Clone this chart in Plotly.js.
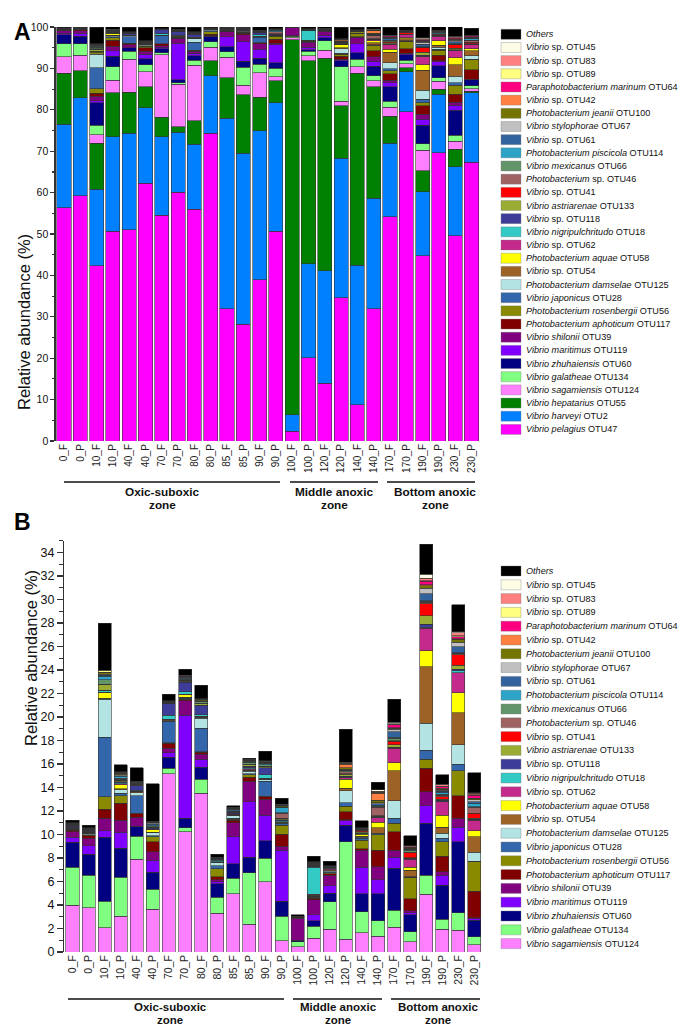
<!DOCTYPE html>
<html><head><meta charset="utf-8">
<script src="https://cdn.plot.ly/plotly-3.0.1.min.js"></script>
<style>html,body{margin:0;padding:0;background:#fff}#chart{width:685px;height:1026px}</style>
</head><body><div id="chart"></div>
<script>
const samples = ["0_F","0_P","10_F","10_P","40_F","40_P","70_F","70_P","80_F","80_P","85_F","85_P","90_F","90_P","100_F","100_P","120_F","120_P","140_F","140_P","170_F","170_P","190_F","190_P","230_F","230_P"];

// Dominant OTUs (panel A only)
const pelagius   = [56.4,59.2,42.3,50.7,51.0,62.2,54.5,60.1,56.0,74.3,32.0,28.2,39.0,50.7,2.4,20.1,13.9,34.6,8.7,31.9,54.2,79.5,44.8,69.6,49.6,67.3];
const harveyi    = [20.1,23.7,18.5,22.8,23.3,18.3,19.0,14.5,15.7,13.9,45.9,41.3,36.0,31.0,4.0,22.7,27.2,33.7,33.7,26.7,17.7,9.7,15.4,14.2,16.7,16.8];
const hepatarius = [12.3,6.5,11.1,10.6,10.0,5.1,4.7,1.3,5.6,3.6,9.9,14.1,8.0,5.3,90.5,49.1,51.3,12.7,46.4,27.0,6.6,1.0,5.1,1.2,4.2,0.4];

// Remaining OTUs (panels A and B)
const sagamiensis = [4.0,3.77,2.07,3.06,7.89,3.63,15.15,10.24,13.5,3.29,4.94,2.38,5.98,0.94,0.45,1.16,1.93,1.08,1.64,1.36,2.1,0.88,4.91,1.93,1.87,0.6];
const galatheae   = [3.2,2.78,2.27,3.3,1.98,1.71,0.48,0.34,1.2,1.36,1.33,4.35,1.99,2.12,0.43,1.05,2.35,8.31,1.79,1.3,1.47,0.85,1.64,0.85,1.48,0.7];
const zhuhaiensis = [2.15,1.79,5.42,2.47,0.79,1.44,0.94,0.8,1.02,1.14,1.22,1.34,1.5,1.28,0.12,0.45,0.72,1.41,1.51,2.28,3.55,1.42,4.4,2.92,6.04,1.42];
const maritimus   = [0.4,0.71,0.57,1.36,0.05,1.05,0.39,8.79,0.68,0.2,2.32,4.71,2.19,4.34,0.02,0.49,0.62,0.37,2.26,1.19,0.94,0.2,1.48,0.85,1.22,0.1];
const shilonii    = [0.5,0.63,1.05,1.04,0.75,0.71,0.37,1.22,0.45,0.15,1.19,1.76,1.34,0.34,1.85,1.28,0.93,0.1,1.48,1.13,0.62,0.17,1.21,0.29,0.77,0.1];
const aphoticum   = [0.1,0.22,0.76,1.43,0.3,0.85,0.43,0.08,0.15,0.25,0.2,0.34,0.2,1.02,0.1,0.15,0.1,0.67,0.12,1.42,1.56,1.0,1.99,1.33,1.9,2.27];
const rosenbergii = [0.05,0.05,1.06,0.62,0.05,0.42,0.05,0.03,0.05,0.7,0.1,0.2,0.05,0.76,0.02,0.1,0.1,0.46,0.72,1.28,0.71,1.8,0.77,1.22,2.15,2.5];
const japonicus   = [0.05,0.05,5.07,0.22,1.5,0.1,1.84,0.1,2.0,0.25,0.1,0.1,1.3,0.1,0.03,0.05,0.1,0.3,0.15,0.1,0.43,0.05,0.79,0.28,0.57,0.05];
const damselae    = [0.05,0.05,3.26,0.3,0.26,0.25,0.05,0.05,0.86,0.25,0.2,0.2,0.1,0.05,0.01,0.02,0.05,1.03,0.1,0.05,1.5,0.05,2.27,0.43,1.62,0.76];
const otu54       = [0.05,0.05,0.08,0.1,0.05,0.05,0.05,0.05,0.05,0.03,0.05,0.1,0.05,0.05,0.01,0.05,0.1,0.2,0.1,0.45,2.55,0.55,4.82,0.5,2.75,1.3];
const aquae       = [0.03,0.03,0.45,0.35,0.03,0.2,0.02,0.2,0.05,0.03,0.03,0.05,0.05,0.05,0,0.05,0.02,0.78,0.15,0.5,0.68,0.23,1.36,1.06,1.7,0.5];
const otu62       = [0.05,0.05,0.05,0.05,0.05,0.05,0.05,0.05,0.05,0.05,0.05,0.05,0.05,0.05,0,0.05,0.05,0.1,0.05,0.35,1.23,0.71,1.91,1.14,1.7,0.9];
const nigripul    = [0.05,0.03,0.12,0.1,0.05,0.05,0.35,0.2,0.15,0.1,0.05,0.1,0.3,0.05,0,2.3,0.05,0.05,0.05,0.05,0.05,0.03,0.1,0.05,0.15,0.05];
const otu118      = [0.05,0.05,0.05,0.1,0.4,0.05,1.0,0.8,0.8,0.1,0.1,0.15,0.6,0.1,0,0.1,0.05,0.1,0.05,0.05,0.05,0.03,0.25,0.05,0.14,0.05];
const astriarenae = [0.05,0.05,0.45,0.1,0.05,0.05,0.02,0.1,0.1,0.05,0.05,0.1,0.05,0.1,0,0.05,0.05,0.15,0.05,0.05,0.2,0.05,0.7,0.1,0.34,0.1];
const otu41       = [0.02,0.02,0.02,0.02,0.02,0.02,0.01,0.02,0.02,0.01,0.01,0.02,0.02,0.02,0,0.02,0.01,0.05,0.1,0.05,0.3,0.43,1.06,0.22,0.88,0.4];
const otu46       = [0.02,0.02,0.05,0.1,0.05,0.05,0.02,0.05,0.05,0.01,0.05,0.05,0.05,0.45,0,0.05,0.01,0.2,0.05,0.7,0.05,0.05,0.1,0.1,0.1,0.5];
const mexicanus   = [0.05,0.05,0.35,0.05,0.05,0.05,0.02,0.1,0.1,0.01,0.05,0.1,0.1,0.05,0,0.05,0.01,0.05,0.02,0.1,0.2,0.15,0.1,0.1,0.05,0.05];
const piscicola   = [0.02,0.02,0.3,0.15,0.05,0.1,0.02,0.05,0.02,0.01,0.05,0.05,0.1,0.4,0,0.05,0.01,0.05,0.02,0.1,0.1,0.05,0.05,0.15,0.05,0.3];
const otu61       = [0.02,0.02,0.1,0.1,0.05,0.1,0.02,0.05,0.05,0.01,0.05,0.05,0.05,0.05,0,0.05,0.01,0.05,0.02,0.1,0.45,0.05,0.57,0.1,0.5,0.15];
const stylophorae = [0.02,0.02,0.1,0.05,0.02,0.05,0.02,0.05,0.05,0.01,0.05,0.05,0.05,0.05,0,0.02,0.01,0.05,0.02,0.1,0.2,0.05,0.48,0.1,0.37,0.15];
const jeanii      = [0.02,0.05,0.12,0.1,0.05,0.05,0.02,0.05,0.05,0.01,0.05,0.05,0.05,0.1,0,0.05,0.01,0.1,0.02,0.2,0.1,0.05,0.2,0.1,0.25,0.1];
const otu42       = [0.01,0.01,0.02,0.02,0.01,0.02,0.01,0.02,0.01,0.01,0.01,0.02,0.02,0.02,0,0.01,0.01,0.3,0.02,0.6,0.05,0.02,0.1,0.05,0.05,0.05];
const marinum     = [0.01,0.01,0.02,0.02,0.01,0.02,0.01,0.02,0.01,0.01,0.01,0.01,0.01,0.02,0,0.01,0.01,0.05,0.02,0.05,0.25,0.05,0.3,0.15,0.2,0.25];
const otu89       = [0.02,0.02,0.12,0.05,0.02,0.02,0.02,0.05,0.05,0.01,0.05,0.05,0.05,0.02,0,0.01,0.01,0.05,0.02,0.05,0.05,0.02,0.05,0.05,0.05,0.05];
const otu83       = [0.01,0.01,0.02,0.02,0.01,0.02,0.01,0.02,0.01,0.01,0.01,0.02,0.01,0.02,0,0.01,0.01,0.05,0.02,0.05,0.05,0.1,0.2,0.1,0.25,0.1];
const otu45       = [0.01,0.01,0.05,0.05,0.01,0.02,0.01,0.02,0.01,0.01,0.01,0.02,0.01,0.02,0,0.01,0.01,0.05,0.02,0.15,0.1,0.02,0.35,0.05,0.1,0.05];
const others      = [0.2,0.2,4.0,0.6,1.15,3.2,0.55,0.5,1.15,0.25,0.1,0.05,0.8,0.5,0.15,0.45,0.4,2.8,0.6,0.65,1.95,0.85,2.55,0.8,2.3,1.7];

const zonesLabels = [["Oxic-suboxic","zone"],["Middle anoxic","zone"],["Bottom anoxic","zone"]];

// series definitions (stack order bottom -> top); 4th field: panel A only
const series = [
  ["<i>Vibrio pelagius</i> OTU47", pelagius, "#ff00ff", true],
  ["<i>Vibrio harveyi</i> OTU2", harveyi, "#0080ff", true],
  ["<i>Vibrio hepatarius</i> OTU55", hepatarius, "#008000", true],
  ["<i>Vibrio sagamiensis</i> OTU124", sagamiensis, "#ff80ff", false],
  ["<i>Vibrio galatheae</i> OTU134", galatheae, "#80ff80", false],
  ["<i>Vibrio zhuhaiensis</i> OTU60", zhuhaiensis, "#000080", false],
  ["<i>Vibrio maritimus</i> OTU119", maritimus, "#8000ff", false],
  ["<i>Vibrio shilonii</i> OTU39", shilonii, "#800080", false],
  ["<i>Photobacterium aphoticum</i> OTU117", aphoticum, "#800000", false],
  ["<i>Photobacterium rosenbergii</i> OTU56", rosenbergii, "#8a8a00", false],
  ["<i>Vibrio japonicus</i> OTU28", japonicus, "#3366aa", false],
  ["<i>Photobacterium damselae</i> OTU125", damselae, "#b3e3e3", false],
  ["<i>Vibrio</i> sp. OTU54", otu54, "#9c6226", false],
  ["<i>Photobacterium aquae</i> OTU58", aquae, "#ffff00", false],
  ["<i>Vibrio</i> sp. OTU62", otu62, "#c42a8c", false],
  ["<i>Vibrio nigripulchritudo</i> OTU18", nigripul, "#33c9c4", false],
  ["<i>Vibrio</i> sp. OTU118", otu118, "#3d3d99", false],
  ["<i>Vibrio astriarenae</i> OTU133", astriarenae, "#9aac33", false],
  ["<i>Vibrio</i> sp. OTU41", otu41, "#ff0000", false],
  ["<i>Photobacterium</i> sp. OTU46", otu46, "#9e6262", false],
  ["<i>Vibrio mexicanus</i> OTU66", mexicanus, "#63956b", false],
  ["<i>Photobacterium piscicola</i> OTU114", piscicola, "#2ea3c8", false],
  ["<i>Vibrio</i> sp. OTU61", otu61, "#33639c", false],
  ["<i>Vibrio stylophorae</i> OTU67", stylophorae, "#c0c0c0", false],
  ["<i>Photobacterium jeanii</i> OTU100", jeanii, "#747400", false],
  ["<i>Vibrio</i> sp. OTU42", otu42, "#ff8040", false],
  ["<i>Paraphotobacterium marinum</i> OTU64", marinum, "#ff0080", false],
  ["<i>Vibrio</i> sp. OTU89", otu89, "#ffff80", false],
  ["<i>Vibrio</i> sp. OTU83", otu83, "#ff8080", false],
  ["<i>Vibrio</i> sp. OTU45", otu45, "#fdfde6", false],
  ["<i>Others</i>", others, "#000000", false]
];

const W = 685, H = 1026;
const fx = x => x / W, fy = y => 1 - y / H;
const FONT = "Arial, 'Liberation Sans', sans-serif";

const traces = [];
series.forEach(s => {
  traces.push({type:"bar", x:samples, y:s[1], name:s[0], xaxis:"x", yaxis:"y", width:0.86,
    marker:{color:s[2], line:{color:"rgba(50,50,50,0.85)", width:0.7}}, showlegend:false, hoverinfo:"name+y"});
});
series.filter(s => !s[3]).forEach(s => {
  traces.push({type:"bar", x:samples, y:s[1], name:s[0], xaxis:"x2", yaxis:"y2", width:0.81,
    marker:{color:s[2], line:{color:"rgba(50,50,50,0.85)", width:0.7}}, showlegend:false, hoverinfo:"name+y"});
});

const shapes = [], annotations = [];
// zone underlines + labels (two lines each)
const zoneA = [[64,280,162],[290,378,334],[387,475,435]];
const zoneB = [[68,284,170],[293,382,338],[391,480,438]];
function zones(spec, yLine, y1, y2, size) {
  spec.forEach((z, i) => {
    shapes.push({type:"line", xref:"paper", yref:"paper", x0:fx(z[0]), x1:fx(z[1]), y0:fy(yLine), y1:fy(yLine), line:{color:"#111", width:1.6}});
    annotations.push({xref:"paper", yref:"paper", x:fx(z[2]), y:fy(y1), text:"<b>"+zonesLabels[i][0]+"</b>", showarrow:false, xanchor:"center", yanchor:"middle", font:{family:FONT, size:size, color:"#111"}});
    annotations.push({xref:"paper", yref:"paper", x:fx(z[2]), y:fy(y2), text:"<b>"+zonesLabels[i][1]+"</b>", showarrow:false, xanchor:"center", yanchor:"middle", font:{family:FONT, size:size, color:"#111"}});
  });
}
zones(zoneA, 482, 492, 504.5, 11.8);
zones(zoneB, 999, 1006.5, 1019.5, 11.5);

// legends
function legend(list, yStart, step) {
  list.slice().reverse().forEach((s, i) => {
    const yc = yStart + i * step;
    shapes.push({type:"rect", xref:"paper", yref:"paper", x0:fx(501), x1:fx(521), y0:fy(yc+5), y1:fy(yc-5), fillcolor:s[2], line:{color:"rgba(120,120,120,0.6)", width:0.6}});
    annotations.push({xref:"paper", yref:"paper", x:fx(524), y:fy(yc), text:s[0], showarrow:false, xanchor:"left", yanchor:"middle", font:{family:FONT, size:9.1, color:"#111"}});
  });
}
legend(series, 34.3, 13.17);
legend(series.filter(s => !s[3]), 571, 13.8);

// panel letters & y titles
annotations.push({xref:"paper", yref:"paper", x:fx(12), y:fy(17), text:"<b>A</b>", showarrow:false, font:{family:FONT, size:23, color:"#000"}});
annotations.push({xref:"paper", yref:"paper", x:fx(12), y:fy(522), text:"<b>B</b>", showarrow:false, font:{family:FONT, size:23, color:"#000"}});
annotations.push({xref:"paper", yref:"paper", x:fx(13), y:fy(232), text:"Relative abundance (%)", textangle:-90, showarrow:false, font:{family:FONT, size:16.5, color:"#111"}});
annotations.push({xref:"paper", yref:"paper", x:fx(20), y:fy(748), text:"Relative abundance (%)", textangle:-90, showarrow:false, font:{family:FONT, size:16.5, color:"#111"}});

const yCommon = {showgrid:false, zeroline:false, showline:true, linecolor:"#333", linewidth:1.5, ticks:"outside", tickcolor:"#333", tickwidth:1.2, color:"#111"};
const xCommon = {type:"category", showgrid:false, zeroline:false, showline:false, ticks:"", tickangle:-90, range:[-0.5,25.5], color:"#222", fixedrange:true};

const layout = {
  width:W, height:H, margin:{l:0,r:0,t:0,b:0}, paper_bgcolor:"#fff", plot_bgcolor:"#fff",
  barmode:"stack", showlegend:false, font:{family:FONT},
  xaxis:Object.assign({}, xCommon, {domain:[fx(55.85), fx(479.65)], anchor:"y", tickfont:{family:FONT, size:10, color:"#222"}}),
  yaxis:Object.assign({}, yCommon, {domain:[fy(441), fy(27)], anchor:"x", range:[0,100], tickvals:[0,10,20,30,40,50,60,70,80,90,100], ticklen:4,
    minor:{dtick:5, ticks:"outside", ticklen:2.5, tickcolor:"#333"}, tickfont:{family:FONT, size:10.5, color:"#111"}}),
  xaxis2:Object.assign({}, xCommon, {domain:[fx(64.46), fx(482.5)], anchor:"y2", tickfont:{family:FONT, size:10.5, color:"#222"}}),
  yaxis2:Object.assign({}, yCommon, {domain:[fy(952), fy(540.75)], anchor:"x2", range:[0,35], dtick:2, tick0:0, ticklen:6,
    minor:{dtick:1, ticks:"outside", ticklen:3.5, tickcolor:"#333"}, tickfont:{family:FONT, size:12.5, color:"#111"}}),
  shapes:shapes, annotations:annotations
};

Plotly.newPlot("chart", traces, layout, {displayModeBar:false, staticPlot:true});
</script></body></html>
